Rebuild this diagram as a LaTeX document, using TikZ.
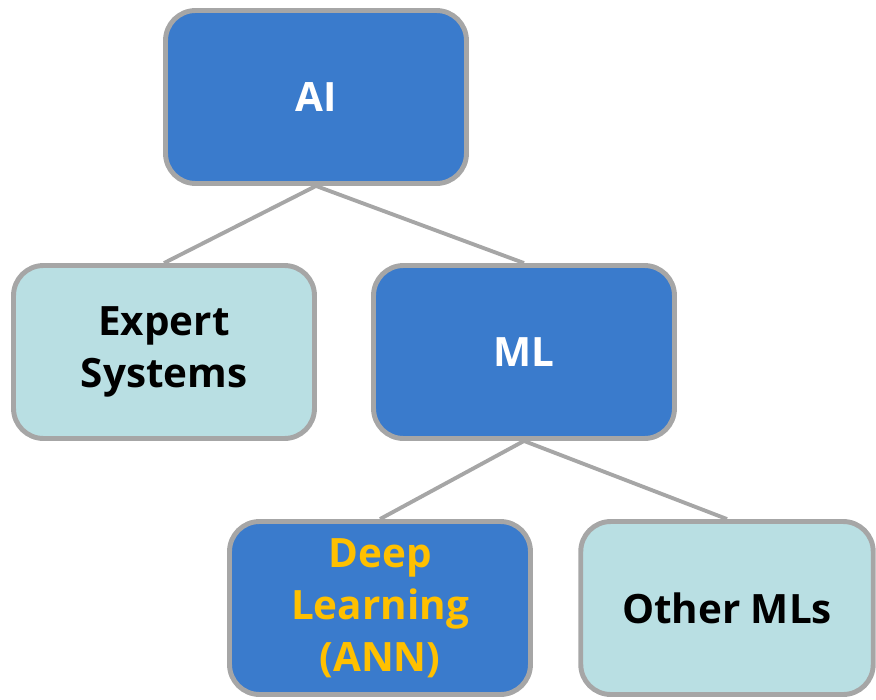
\documentclass[tikz,border=0pt]{standalone}
\usepackage{fontspec}
\setmainfont{Open Sans}
\usepackage{tikz}
\definecolor{boxblue}{HTML}{3A7BCC}
\definecolor{boxteal}{HTML}{B9DFE3}
\definecolor{boxline}{HTML}{A6A6A6}
\definecolor{dlgold}{HTML}{FFC000}
\tikzset{
    mybox/.style = {rectangle, rounded corners=0.6cm, line width=2.8pt, draw=boxline, align=center, minimum width=6.02cm, minimum height=3.46cm, font=\fontsize{23}{29.5}\selectfont\bfseries},
    myboxb/.style = {mybox, fill=boxblue, text=white},
    myboxt/.style = {mybox, fill=boxteal, text=black},
    myboxg/.style = {mybox, fill=boxblue, text=dlgold},
    edgen/.style = {-, line width=2.2pt, boxline}
}

\begin{document}
\begin{tikzpicture}[x=0.02cm, y=-0.02cm]
  \useasboundingbox (0,0) rectangle (876,700);
  \node[myboxb] (ai) at (316,97) {AI};
  \node[myboxt] (es) at (164,352) {Expert\\Systems};
  \node[myboxb] (ml) at (524,352) {ML};
  \node[myboxg] (dl) at (380,608) {Deep\\Learning\\(ANN)};
  \node[myboxt, minimum width=5.85cm] (om) at (727,608) {Other MLs};
  % tree edges
  \draw[edgen] (ai.south) -- (es.north);
  \draw[edgen] (ai.south) -- (ml.north);
  \draw[edgen] (ml.south) -- (dl.north);
  \draw[edgen] (ml.south) -- (om.north);
\end{tikzpicture}
\end{document}
